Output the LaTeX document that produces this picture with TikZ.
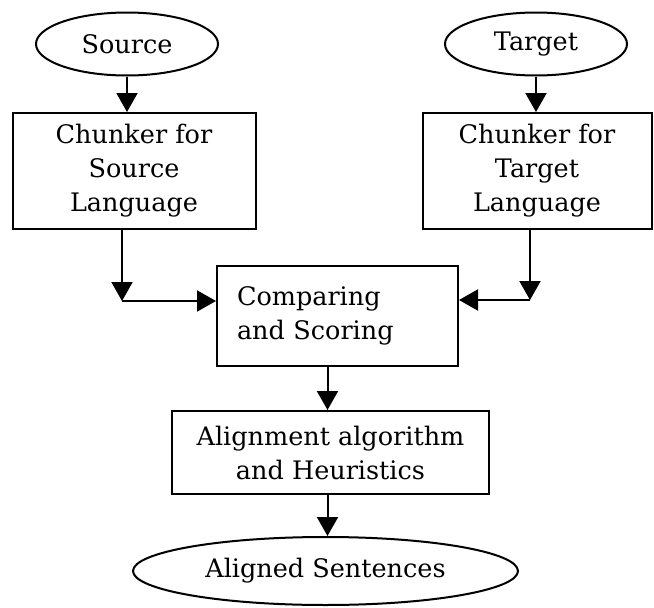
\documentclass[tikz,border=0pt]{standalone}
\usepackage{fontspec}
\setmainfont{DejaVu Serif}
\usetikzlibrary{shapes.geometric}
\usetikzlibrary{arrows.meta}

\tikzset{
  flowbox/.style={draw, line width=2pt, rectangle, align=center, inner sep=0pt},
  endcap/.style={draw, line width=2pt, ellipse, inner sep=0pt},
  flowarrow/.style={line width=2pt, -{Triangle[width=21pt,length=19pt]}}
}

\begin{document}
\begin{tikzpicture}[x=1pt, y=-1pt, font=\fontsize{25.5pt}{34pt}\selectfont]

\useasboundingbox (0,0) rectangle (654,608);

% inputs
\node[endcap, minimum width=182pt, minimum height=63pt]
  (source) at (127,44) {Source};
\node[endcap, minimum width=182pt, minimum height=63pt]
  (target) at (536,44) {Target};

% chunkers
\node[flowbox, minimum width=243pt, minimum height=116pt]
  (srcchunk) at (134,171) {Chunker for\\Source\\Language};
\node[flowbox, minimum width=229pt, minimum height=116pt]
  (tgtchunk) at (537,171) {Chunker for\\Target\\Language};

% comparing, alignment, output
\node[flowbox, align=left, inner xsep=20pt, text width=201pt, minimum height=100pt]
  (compare) at (337.5,316) {Comparing\\and Scoring};
\node[flowbox, minimum width=317pt, minimum height=83pt]
  (align) at (330.5,452.5) {Alignment algorithm\\and Heuristics};
\node[endcap, minimum width=385pt, minimum height=68pt]
  (aligned) at (325.5,571) {Aligned Sentences};

\coordinate (srcjoin) at (122,301);
\coordinate (tgtjoin) at (530,300);

\draw[flowarrow] (source.south) -- (source.south |- srcchunk.north);
\draw[flowarrow] (target.south) -- (target.south |- tgtchunk.north);

\draw[flowarrow] (srcchunk.south -| srcjoin) -- (srcjoin);
\draw[flowarrow] (srcjoin) -- (srcjoin -| compare.west);
\draw[flowarrow] (tgtchunk.south -| tgtjoin) -- (tgtjoin);
\draw[flowarrow] (tgtjoin) -- (tgtjoin -| compare.east);

\draw[flowarrow]
  ([xshift=-10pt]compare.south) -- ([xshift=-10pt]compare.south |- align.north);
\draw[flowarrow]
  ([xshift=-3pt]align.south) -- ([xshift=-3pt]align.south |- aligned.north);

\end{tikzpicture}
\end{document}
